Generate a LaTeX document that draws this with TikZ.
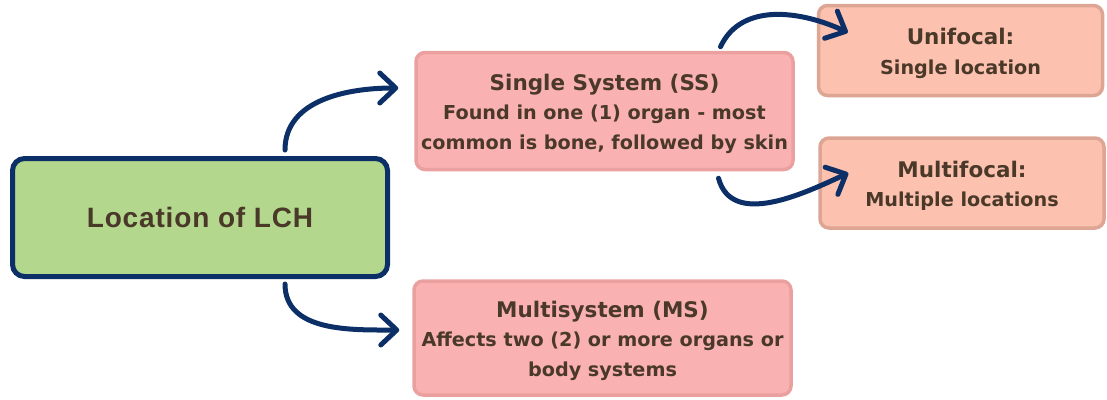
\documentclass[tikz,border=0pt]{standalone}
\usepackage{fontspec}
\setmainfont{DejaVu Sans}
\newfontfamily\titlefont[LetterSpace=3]{Liberation Sans}
\usetikzlibrary{arrows.meta}
\definecolor{navy}{HTML}{0B2F66}
\definecolor{greenfill}{HTML}{B3D78C}
\definecolor{pinkfill}{HTML}{F9B1B1}
\definecolor{pinkline}{HTML}{EBA0A0}
\definecolor{salmonfill}{HTML}{FCC1AF}
\definecolor{salmonline}{HTML}{DDA593}
\definecolor{txt}{HTML}{4A3829}
\newcommand{\toppad}{\rule{0pt}{22pt}}
\begin{document}
\begin{tikzpicture}[x=1pt,y=-1pt,
  box/.style={rounded corners=9pt, line width=3.5pt, inner sep=0pt, align=center, text=txt,
    font=\fontsize{19.2}{29.5}\selectfont\bfseries},
  ssbox/.style={box, fill=pinkfill, draw=pinkline, minimum width=377pt, minimum height=117pt},
  focbox/.style={box, fill=salmonfill, draw=salmonline, minimum width=284pt, minimum height=90pt},
  mainbox/.style={box, fill=greenfill, draw=navy, line width=5pt, rounded corners=12pt,
    minimum width=375pt, minimum height=118pt},
  conn/.style={draw=navy, line width=5pt, line cap=round,
    -{Straight Barb[length=16pt,width=30pt,line width=5pt,line cap=round,line join=round]}}
]
\useasboundingbox (0,0) rectangle (1107,399);
\node[mainbox] (lch) at (200,217.5) {\titlefont\fontsize{28}{30}\selectfont\bfseries Location of LCH};
\node[ssbox] (ss) at (604.5,111) {{\fontsize{21.5}{29.5}\selectfont\toppad Single System (SS)}\\Found in one (1) organ - most\\common is bone, followed by skin};
\node[ssbox, minimum height=114pt] (ms) at (602.5,338) {{\fontsize{21.5}{29.5}\selectfont\toppad Multisystem (MS)}\\Affects two (2) or more organs or\\body systems};
\node[focbox] (uni) at (960.5,50.5) {{\fontsize{21.5}{30}\selectfont\toppad Unifocal:}\\Single location};
\node[focbox] (mf) at (962,183) {{\fontsize{21.5}{30}\selectfont\toppad Multifocal:}\\Multiple locations};
\draw[conn] ([xshift=85pt,yshift=6pt]lch.north) to[out=90,in=180] ([xshift=-16pt,yshift=23pt]ss.west);
\draw[conn] ([xshift=85pt,yshift=-5pt]lch.south) to[out=-90,in=180] ([xshift=-13pt,yshift=8pt]ms.west);
\draw[conn] ([xshift=116pt,yshift=4pt]ss.north) to[out=65,in=155] ([xshift=31pt,yshift=18pt]uni.west);
\draw[conn] ([xshift=114pt,yshift=-7pt]ss.south) to[out=-75,in=205] ([xshift=30pt,yshift=10pt]mf.west);
\end{tikzpicture}
\end{document}
